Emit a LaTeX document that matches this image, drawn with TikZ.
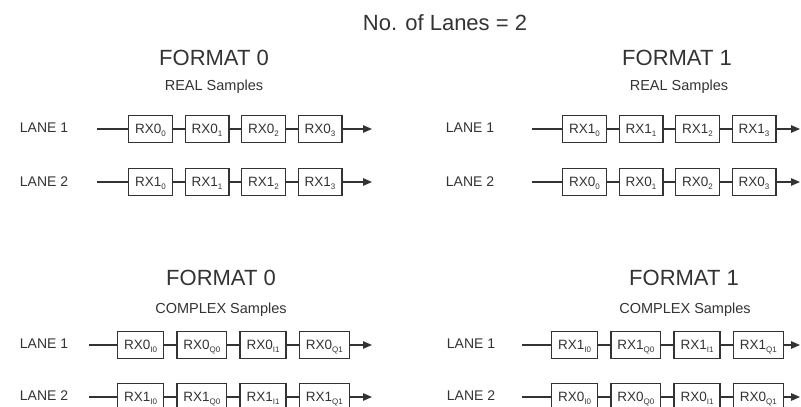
\documentclass[tikz,border=0pt]{standalone}
\usepackage{fontspec}
\setmainfont{Liberation Sans}
\usetikzlibrary{positioning, arrows.meta}
\definecolor{inkgray}{HTML}{333333}
\newcommand{\smp}[1]{\raisebox{-0.45ex}{\fontsize{8}{8}\selectfont #1}}

\begin{document}
\begin{tikzpicture}[
    x=1pt, y=-1pt,          % 画像のピクセル座標で配置
    line width=1.2pt,
    color=inkgray,
    >={Triangle[length=9pt, width=7.5pt]},
    node distance=11.5pt,
    title_txt/.style={font=\fontsize{22}{26}\selectfont, anchor=base},
    sub_txt/.style={font=\fontsize{14.5}{17}\selectfont, anchor=base},
    lane_txt/.style={font=\fontsize{14}{17}\selectfont, anchor=west},
    sample_box/.style={draw, line width=1.3pt, font=\fontsize{13.5}{16}\selectfont,
        inner xsep=6.5pt, inner ysep=0pt, text height=10pt, text depth=2pt,
        minimum height=27pt}
]
    \useasboundingbox (0,0) rectangle (801,407);

    % --- 1. タイトル ---
    \node [title_txt] (ttl) at (445, 30) {No. of Lanes = 2};

    % --- 2. FORMAT 0 / REAL ---
    \node [title_txt] (f0r) at (214, 65) {FORMAT 0};
    \node [sub_txt] (f0r_sub) at (214, 90) {REAL Samples};
    \node [lane_txt] (f0r_l1) at (16, 128) {LANE 1};
    \node [lane_txt] (f0r_l2) at (16, 182) {LANE 2};

    \coordinate (f0r_s1) at (97, 129);
    \node [sample_box, anchor=west] (f0r_a1) at (128, 129) {RX0\smp{0}};
    \node [sample_box, right=of f0r_a1] (f0r_a2) {RX0\smp{1}};
    \node [sample_box, right=of f0r_a2] (f0r_a3) {RX0\smp{2}};
    \node [sample_box, right=of f0r_a3] (f0r_a4) {RX0\smp{3}};
    \coordinate (f0r_e1) at (372, 129);
    \draw (f0r_s1) -- (f0r_a1) -- (f0r_a2) -- (f0r_a3) -- (f0r_a4);
    \draw [->] (f0r_a4) -- (f0r_e1);

    \coordinate (f0r_s2) at (97, 182);
    \node [sample_box, anchor=west] (f0r_b1) at (128, 182) {RX1\smp{0}};
    \node [sample_box, right=of f0r_b1] (f0r_b2) {RX1\smp{1}};
    \node [sample_box, right=of f0r_b2] (f0r_b3) {RX1\smp{2}};
    \node [sample_box, right=of f0r_b3] (f0r_b4) {RX1\smp{3}};
    \coordinate (f0r_e2) at (372, 182);
    \draw (f0r_s2) -- (f0r_b1) -- (f0r_b2) -- (f0r_b3) -- (f0r_b4);
    \draw [->] (f0r_b4) -- (f0r_e2);

    % --- 3. FORMAT 1 / REAL ---
    \node [title_txt] (f1r) at (677, 65) {FORMAT 1};
    \node [sub_txt] (f1r_sub) at (679, 90) {REAL Samples};
    \node [lane_txt] (f1r_l1) at (442, 128) {LANE 1};
    \node [lane_txt] (f1r_l2) at (442, 182) {LANE 2};

    \coordinate (f1r_s1) at (532, 129);
    \node [sample_box, anchor=west] (f1r_a1) at (562, 129) {RX1\smp{0}};
    \node [sample_box, right=of f1r_a1] (f1r_a2) {RX1\smp{1}};
    \node [sample_box, right=of f1r_a2] (f1r_a3) {RX1\smp{2}};
    \node [sample_box, right=of f1r_a3] (f1r_a4) {RX1\smp{3}};
    \coordinate (f1r_e1) at (800, 129);
    \draw (f1r_s1) -- (f1r_a1) -- (f1r_a2) -- (f1r_a3) -- (f1r_a4);
    \draw [->] (f1r_a4) -- (f1r_e1);

    \coordinate (f1r_s2) at (532, 182);
    \node [sample_box, anchor=west] (f1r_b1) at (562, 182) {RX0\smp{0}};
    \node [sample_box, right=of f1r_b1] (f1r_b2) {RX0\smp{1}};
    \node [sample_box, right=of f1r_b2] (f1r_b3) {RX0\smp{2}};
    \node [sample_box, right=of f1r_b3] (f1r_b4) {RX0\smp{3}};
    \coordinate (f1r_e2) at (800, 182);
    \draw (f1r_s2) -- (f1r_b1) -- (f1r_b2) -- (f1r_b3) -- (f1r_b4);
    \draw [->] (f1r_b4) -- (f1r_e2);

    % --- 4. FORMAT 0 / COMPLEX ---
    \node [title_txt] (f0c) at (221, 285) {FORMAT 0};
    \node [sub_txt] (f0c_sub) at (221, 313) {COMPLEX Samples};
    \node [lane_txt] (f0c_l1) at (16, 344) {LANE 1};
    \node [lane_txt] (f0c_l2) at (16, 396) {LANE 2};

    \coordinate (f0c_s1) at (89, 345);
    \node [sample_box, anchor=west] (f0c_a1) at (117, 345) {RX0\smp{I0}};
    \node [sample_box, right=12pt of f0c_a1] (f0c_a2) {RX0\smp{Q0}};
    \node [sample_box, right=12pt of f0c_a2] (f0c_a3) {RX0\smp{I1}};
    \node [sample_box, right=12pt of f0c_a3] (f0c_a4) {RX0\smp{Q1}};
    \coordinate (f0c_e1) at (372, 345);
    \draw (f0c_s1) -- (f0c_a1) -- (f0c_a2) -- (f0c_a3) -- (f0c_a4);
    \draw [->] (f0c_a4) -- (f0c_e1);

    \coordinate (f0c_s2) at (89, 397);
    \node [sample_box, anchor=west] (f0c_b1) at (117, 397) {RX1\smp{I0}};
    \node [sample_box, right=12pt of f0c_b1] (f0c_b2) {RX1\smp{Q0}};
    \node [sample_box, right=12pt of f0c_b2] (f0c_b3) {RX1\smp{I1}};
    \node [sample_box, right=12pt of f0c_b3] (f0c_b4) {RX1\smp{Q1}};
    \coordinate (f0c_e2) at (372, 397);
    \draw (f0c_s2) -- (f0c_b1) -- (f0c_b2) -- (f0c_b3) -- (f0c_b4);
    \draw [->] (f0c_b4) -- (f0c_e2);

    % --- 5. FORMAT 1 / COMPLEX ---
    \node [title_txt] (f1c) at (684, 285) {FORMAT 1};
    \node [sub_txt] (f1c_sub) at (685, 313) {COMPLEX Samples};
    \node [lane_txt] (f1c_l1) at (443, 344) {LANE 1};
    \node [lane_txt] (f1c_l2) at (443, 396) {LANE 2};

    \coordinate (f1c_s1) at (522, 345);
    \node [sample_box, anchor=west] (f1c_a1) at (551, 345) {RX1\smp{I0}};
    \node [sample_box, right=12pt of f1c_a1] (f1c_a2) {RX1\smp{Q0}};
    \node [sample_box, right=12pt of f1c_a2] (f1c_a3) {RX1\smp{I1}};
    \node [sample_box, right=12pt of f1c_a3] (f1c_a4) {RX1\smp{Q1}};
    \coordinate (f1c_e1) at (800, 345);
    \draw (f1c_s1) -- (f1c_a1) -- (f1c_a2) -- (f1c_a3) -- (f1c_a4);
    \draw [->] (f1c_a4) -- (f1c_e1);

    \coordinate (f1c_s2) at (522, 397);
    \node [sample_box, anchor=west] (f1c_b1) at (551, 397) {RX0\smp{I0}};
    \node [sample_box, right=12pt of f1c_b1] (f1c_b2) {RX0\smp{Q0}};
    \node [sample_box, right=12pt of f1c_b2] (f1c_b3) {RX0\smp{I1}};
    \node [sample_box, right=12pt of f1c_b3] (f1c_b4) {RX0\smp{Q1}};
    \coordinate (f1c_e2) at (800, 397);
    \draw (f1c_s2) -- (f1c_b1) -- (f1c_b2) -- (f1c_b3) -- (f1c_b4);
    \draw [->] (f1c_b4) -- (f1c_e2);

\end{tikzpicture}
\end{document}
